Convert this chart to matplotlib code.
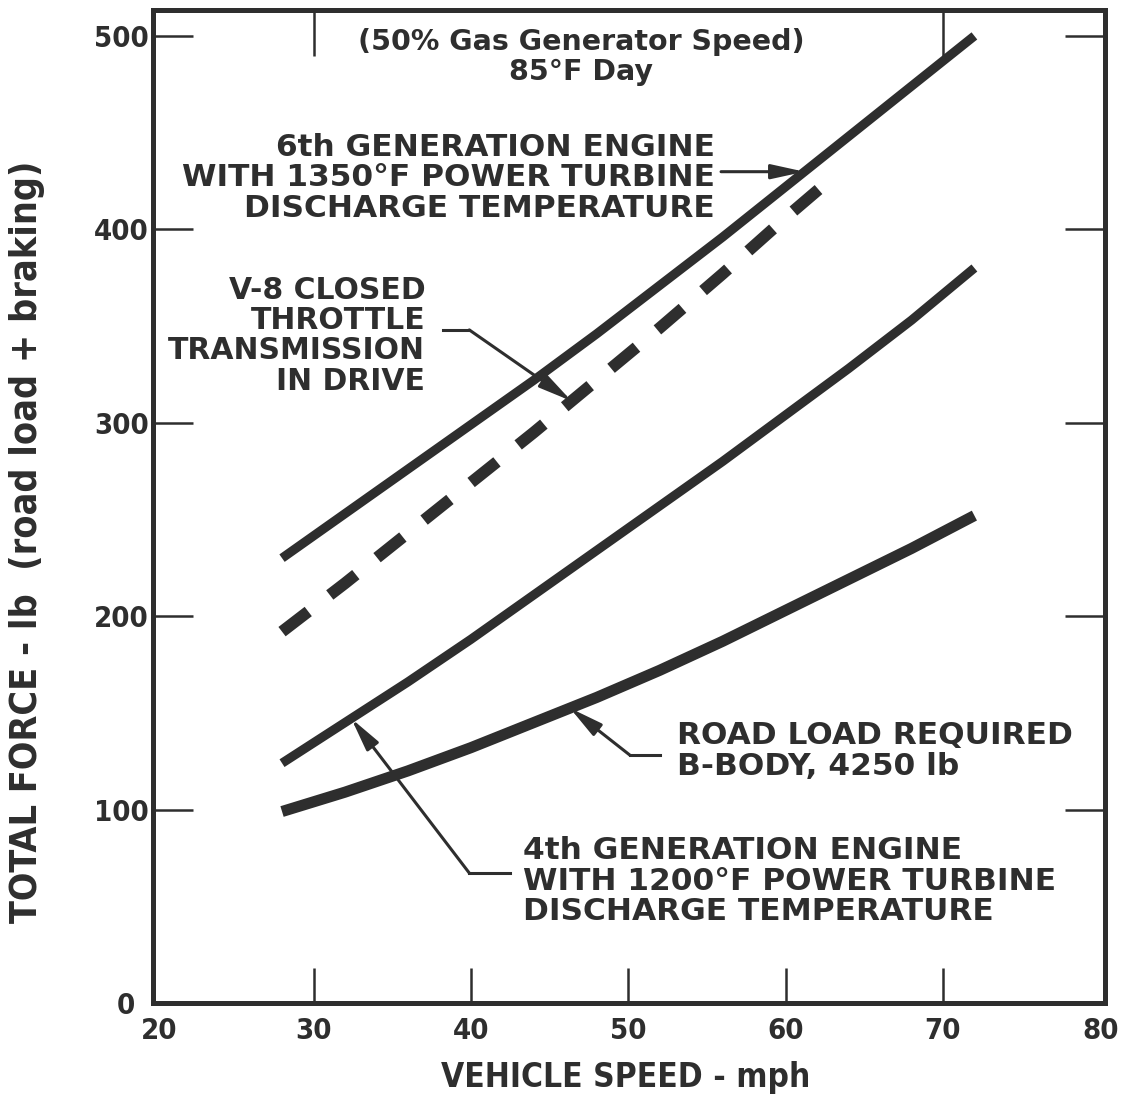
import matplotlib
matplotlib.use("Agg")
import matplotlib.pyplot as plt
import matplotlib.transforms as mtransforms
import numpy as np

# ---- data ----
speed_6th = [28, 32, 36, 40, 44, 48, 52, 56, 60, 64, 68, 72]
force_6th = [230, 253, 276, 299, 322, 346, 371, 396, 422, 448, 474, 500]

speed_v8 = [28, 32, 36, 40, 44, 48, 52, 56, 60, 62.3]
force_v8 = [192, 217, 243, 269, 295, 322, 349, 377, 406, 422]

speed_4th = [28, 32, 36, 40, 44, 48, 52, 56, 60, 64, 68, 72]
force_4th = [124, 145, 166, 188, 211, 234, 257, 280, 304, 328, 353, 380]

speed_road = [28, 32, 36, 40, 44, 48, 52, 56, 60, 64, 68, 72]
force_road = [99, 109, 120, 132, 145, 158, 172, 187, 203, 219, 235, 252]

x_ticks = [20, 30, 40, 50, 60, 70, 80]
y_ticks = [0, 100, 200, 300, 400, 500]

title_text = "(50% Gas Generator Speed)\n85\u00b0F Day"
label_6th = "6th GENERATION ENGINE\nWITH 1350\u00b0F POWER TURBINE\nDISCHARGE TEMPERATURE"
label_v8 = "V-8 CLOSED\nTHROTTLE\nTRANSMISSION\nIN DRIVE"
label_road = "ROAD LOAD REQUIRED\nB-BODY, 4250 lb"
label_4th = "4th GENERATION ENGINE\nWITH 1200\u00b0F POWER TURBINE\nDISCHARGE TEMPERATURE"
xlabel = "VEHICLE SPEED - mph"
ylabel = "TOTAL FORCE - lb  (road load + braking)"

INK = "#2e2e2e"
plt.rcParams["font.family"] = ["DejaVu Sans"]

fig = plt.figure(figsize=(11.36, 11.02), dpi=100)
ax = fig.add_axes([153 / 1136, 1 - 1003 / 1102, (1105 - 153) / 1136, (1003 - 10) / 1102])
ax.set_xlim(19.8, 80.3)
ax.set_ylim(0, 513.4)

for s in ax.spines.values():
    s.set_linewidth(3.6)
    s.set_color(INK)

ax.set_xticks(x_ticks)
ax.set_yticks(y_ticks)
ax.set_xticklabels([str(v) for v in x_ticks])
ax.set_yticklabels([str(v) for v in y_ticks])
ax.tick_params(axis="x", direction="in", length=25, width=1.8, color=INK, pad=10,
               labelsize=21, labelcolor=INK)
ax.tick_params(axis="y", direction="in", length=29, width=1.8, color=INK, pad=3,
               labelsize=21, labelcolor=INK, right=True)
for lab in ax.get_xticklabels() + ax.get_yticklabels():
    lab.set_fontweight("bold")
    lab.set_fontstretch("condensed")

# hide corner tick marks (20, 80 and 0)
for t in (ax.xaxis.get_major_ticks()[0], ax.xaxis.get_major_ticks()[-1],
          ax.yaxis.get_major_ticks()[0]):
    t.tick1line.set_visible(False)
    t.tick2line.set_visible(False)
# nudge the "0" label left like the reference
zero_lab = ax.get_yticklabels()[0]
zero_lab.set_transform(zero_lab.get_transform() +
                       mtransforms.ScaledTranslation(-14 / 100, 0, fig.dpi_scale_trans))
# nudge the "20" label right a bit
twenty = ax.get_xticklabels()[0]
twenty.set_transform(twenty.get_transform() +
                     mtransforms.ScaledTranslation(3 / 100, 0, fig.dpi_scale_trans))

top = ax.secondary_xaxis("top")
top.set_xticks([30, 70])
top.set_xticklabels(["", ""])
top.tick_params(direction="in", length=33, width=1.8, color=INK)
top.spines["top"].set_visible(False)

# curves
ax.plot(speed_6th, force_6th, color=INK, lw=6.6, solid_capstyle="butt",
        solid_joinstyle="round")
ax.plot(speed_v8, force_v8, color=INK, lw=8.5, dashes=(2.8, 2.3), dash_capstyle="butt")
ax.plot(speed_4th, force_4th, color=INK, lw=6.6, solid_capstyle="butt",
        solid_joinstyle="round")
ax.plot(speed_road, force_road, color=INK, lw=8.0, solid_capstyle="butt",
        solid_joinstyle="round")

txt = dict(color=INK, fontweight="bold", fontsize=22.5, linespacing=1.06)
ax.text(47.0, 489.0, title_text, ha="center", va="center", color=INK,
        fontsize=20.5, fontweight="bold", linespacing=1.1)

ax.text(55.5, 426.6, label_6th, ha="right", va="center", multialignment="right", **txt)
ax.text(37.1, 345.0, label_v8, ha="right", va="center", multialignment="right",
        **{**txt, "fontsize": 21.5})
ax.text(53.1, 130.3, label_road, ha="left", va="center", multialignment="left", **txt)
ax.text(43.3, 63.0, label_4th, ha="left", va="center", multialignment="left", **txt)

arrow = dict(arrowstyle="-|>,head_length=1.0,head_width=0.22", color=INK, lw=2.2,
             mutation_scale=20, shrinkA=0, shrinkB=0)

# 6th gen leader
x6 = 61.2
ax.annotate("", xy=(x6, np.interp(x6, speed_6th, force_6th)),
            xytext=(55.9, np.interp(x6, speed_6th, force_6th)), arrowprops=arrow)
# V-8 leader
xv = 46.4
ax.plot([38.2, 39.9], [348, 348], color=INK, lw=2.2)
ax.annotate("", xy=(xv, np.interp(xv, speed_v8, force_v8)), xytext=(39.9, 348),
            arrowprops=arrow)
# road load leader
xr = 46.3
ax.plot([52.0, 50.1], [128.2, 128.2], color=INK, lw=2.2)
ax.annotate("", xy=(xr, np.interp(xr, speed_road, force_road)), xytext=(50.1, 128.2),
            arrowprops=arrow)
# 4th gen leader
x4 = 32.4
ax.plot([42.5, 39.9], [67.2, 67.2], color=INK, lw=2.2)
ax.annotate("", xy=(x4, np.interp(x4, speed_4th, force_4th)), xytext=(39.9, 67.2),
            arrowprops=arrow)

ax.set_xlabel(xlabel, fontsize=24, fontweight="bold", color=INK,
              fontstretch="condensed")
ax.set_ylabel(ylabel, fontsize=27, fontweight="bold", color=INK,
              fontstretch="condensed")
ax.xaxis.set_label_coords(0.496, -0.058)
ax.yaxis.set_label_coords(-0.113, 0.464)

fig.savefig("out.png", dpi=100, facecolor="white")
